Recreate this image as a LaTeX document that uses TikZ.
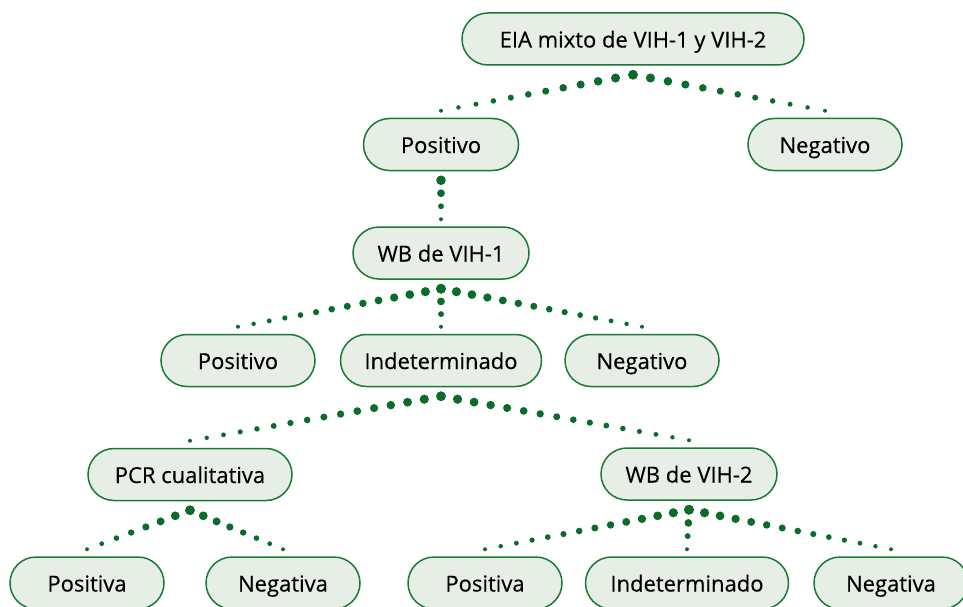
\documentclass[tikz,border=0pt]{standalone}
\usepackage{fontspec}
\setmainfont{Open Sans}
\newfontfamily\boxfont{Open Sans}[FakeBold=0.4]
\usetikzlibrary{calc}
\definecolor{boxline}{HTML}{1A7A33}
\definecolor{boxfill}{HTML}{E6EEE5}
\definecolor{dotc}{HTML}{0A6B2A}
\tikzset{
  box/.style={draw=boxline, fill=boxfill, line width=1.5pt, rounded corners=26pt,
    minimum height=52pt, minimum width=154pt, inner sep=0pt,
    text height=20pt, text depth=3pt,
    font=\boxfont\fontsize{22}{25}\selectfont, text=black},
}
% #1 parent node, #2 child node, #3 number of intervals
\newcommand{\dotrow}[3]{%
  \coordinate (#1-#2-a) at ($(#1.south)+(0,-9pt)$);
  \coordinate (#1-#2-b) at ($(#2.north)+(0,7pt)$);
  \foreach \i in {0,...,#3}{
    \fill[dotc] ($(#1-#2-a)!\i/#3!(#1-#2-b)$) circle[radius={(4.8-2.8*\i/#3)*1pt}];
  }
}
\begin{document}
\begin{tikzpicture}[x=1pt,y=-1pt]
\useasboundingbox (0,0) rectangle (963,607);
\fill[white] (0,0) rectangle (963,607);
\node[box, minimum width=342pt] (eia) at (633,39) {EIA mixto de VIH-1 y VIH-2};
\node[box, minimum width=155pt] (p1) at (441,144.5) {Positivo};
\node[box] (n1) at (825,144.5) {Negativo};
\node[box, minimum width=176pt] (wb1) at (441,253) {WB de VIH-1};
\node[box] (p2) at (238,360.5) {Positivo};
\node[box, minimum width=201pt] (i2) at (441,360.5) {Indeterminado};
\node[box] (n2) at (642,360.5) {Negativo};
\node[box, minimum width=204pt] (pcr) at (190,474.5) {PCR cualitativa};
\node[box, minimum width=176pt] (wb2) at (689,474) {WB de VIH-2};
\node[box] (pa) at (87,583) {Positiva};
\node[box] (na) at (283,583) {Negativa};
\node[box] (pb) at (485,583) {Positiva};
\node[box, minimum width=203pt] (ib) at (687,583) {Indeterminado};
\node[box] (nb) at (891,583) {Negativa};
\dotrow{eia}{p1}{11}
\dotrow{eia}{n1}{11}
\dotrow{p1}{wb1}{3}
\dotrow{wb1}{p2}{13}
\dotrow{wb1}{i2}{3}
\dotrow{wb1}{n2}{13}
\dotrow{i2}{pcr}{15}
\dotrow{i2}{wb2}{15}
\dotrow{pcr}{pa}{7}
\dotrow{pcr}{na}{7}
\dotrow{wb2}{pb}{13}
\dotrow{wb2}{ib}{3}
\dotrow{wb2}{nb}{13}
\end{tikzpicture}
\end{document}
